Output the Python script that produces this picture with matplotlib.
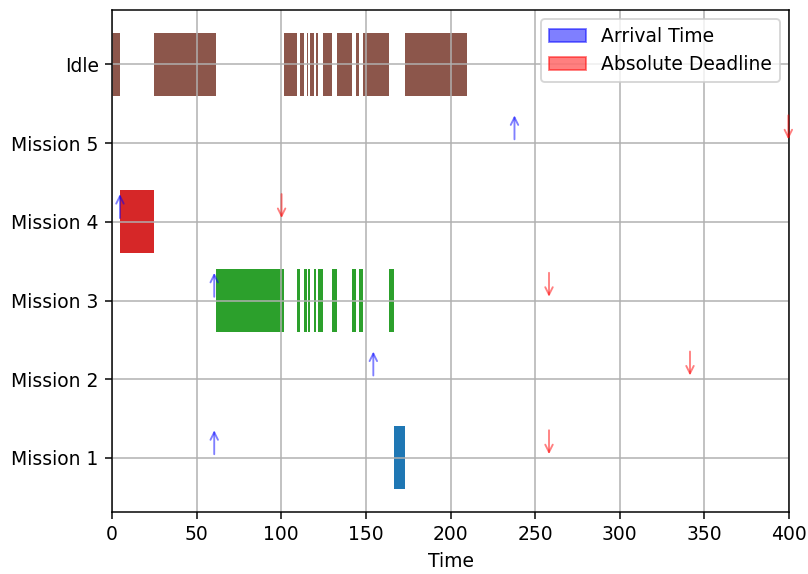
import matplotlib
matplotlib.use("Agg")
import matplotlib.pyplot as plt
import matplotlib.patches as mpatches

rows = ["Mission 1", "Mission 2", "Mission 3", "Mission 4", "Mission 5", "Idle"]
row_colors = ["C0", "C1", "C2", "C3", "C4", "C5"]

# execution intervals (start, end) per row
mission1_runs = [(166.8, 173.3)]
mission2_runs = []
mission3_runs = [(61.3, 101.5), (109.5, 111.1), (113.5, 115.0), (115.6, 116.8),
                 (119.3, 120.5), (121.6, 124.9), (129.8, 132.7), (142.0, 144.2),
                 (145.9, 148.5), (163.7, 166.8)]
mission4_runs = [(5.0, 25.0)]
mission5_runs = []
idle_runs = [(0.0, 5.0), (25.0, 61.3), (101.5, 109.5), (111.1, 113.5), (115.0, 115.6),
             (116.8, 119.3), (120.5, 121.6), (124.9, 129.8), (132.7, 142.0),
             (144.2, 145.9), (148.5, 163.7), (173.3, 209.6)]
all_runs = [mission1_runs, mission2_runs, mission3_runs, mission4_runs, mission5_runs, idle_runs]

# arrival times and absolute deadlines per mission
arrivals = [60.4, 154.4, 60.4, 4.7, 237.8]
deadlines = [258.2, 341.5, 258.2, 100.2, 399.6]

DPI = 135
fig, ax = plt.subplots(figsize=(808 / DPI, 574 / DPI), dpi=DPI)
fig.subplots_adjust(left=0.1386, right=0.9765, top=0.9825, bottom=0.1075)

for i, runs in enumerate(all_runs):
    y = i + 1
    if runs:
        ax.broken_barh([(s, e - s) for s, e in runs], (y - 0.4, 0.8),
                       facecolors=row_colors[i])

for i in range(5):
    y = i + 1
    ax.annotate("", xy=(arrivals[i], y + 0.4), xytext=(arrivals[i], y),
                arrowprops=dict(arrowstyle="->", color="blue", alpha=0.5, lw=1.0))
    ax.annotate("", xy=(deadlines[i], y), xytext=(deadlines[i], y + 0.4),
                arrowprops=dict(arrowstyle="->", color="red", alpha=0.5, lw=1.0))

ax.set_yticks(range(1, len(rows) + 1))
ax.set_yticklabels(rows)
ax.set_xlim(0, 400)
ax.set_xlabel("Time")
ax.grid(True)

handles = [mpatches.Patch(color="blue", alpha=0.5, label="Arrival Time"),
           mpatches.Patch(color="red", alpha=0.5, label="Absolute Deadline")]
ax.legend(handles=handles, loc="upper right")

fig.savefig("out.png", dpi=DPI)
